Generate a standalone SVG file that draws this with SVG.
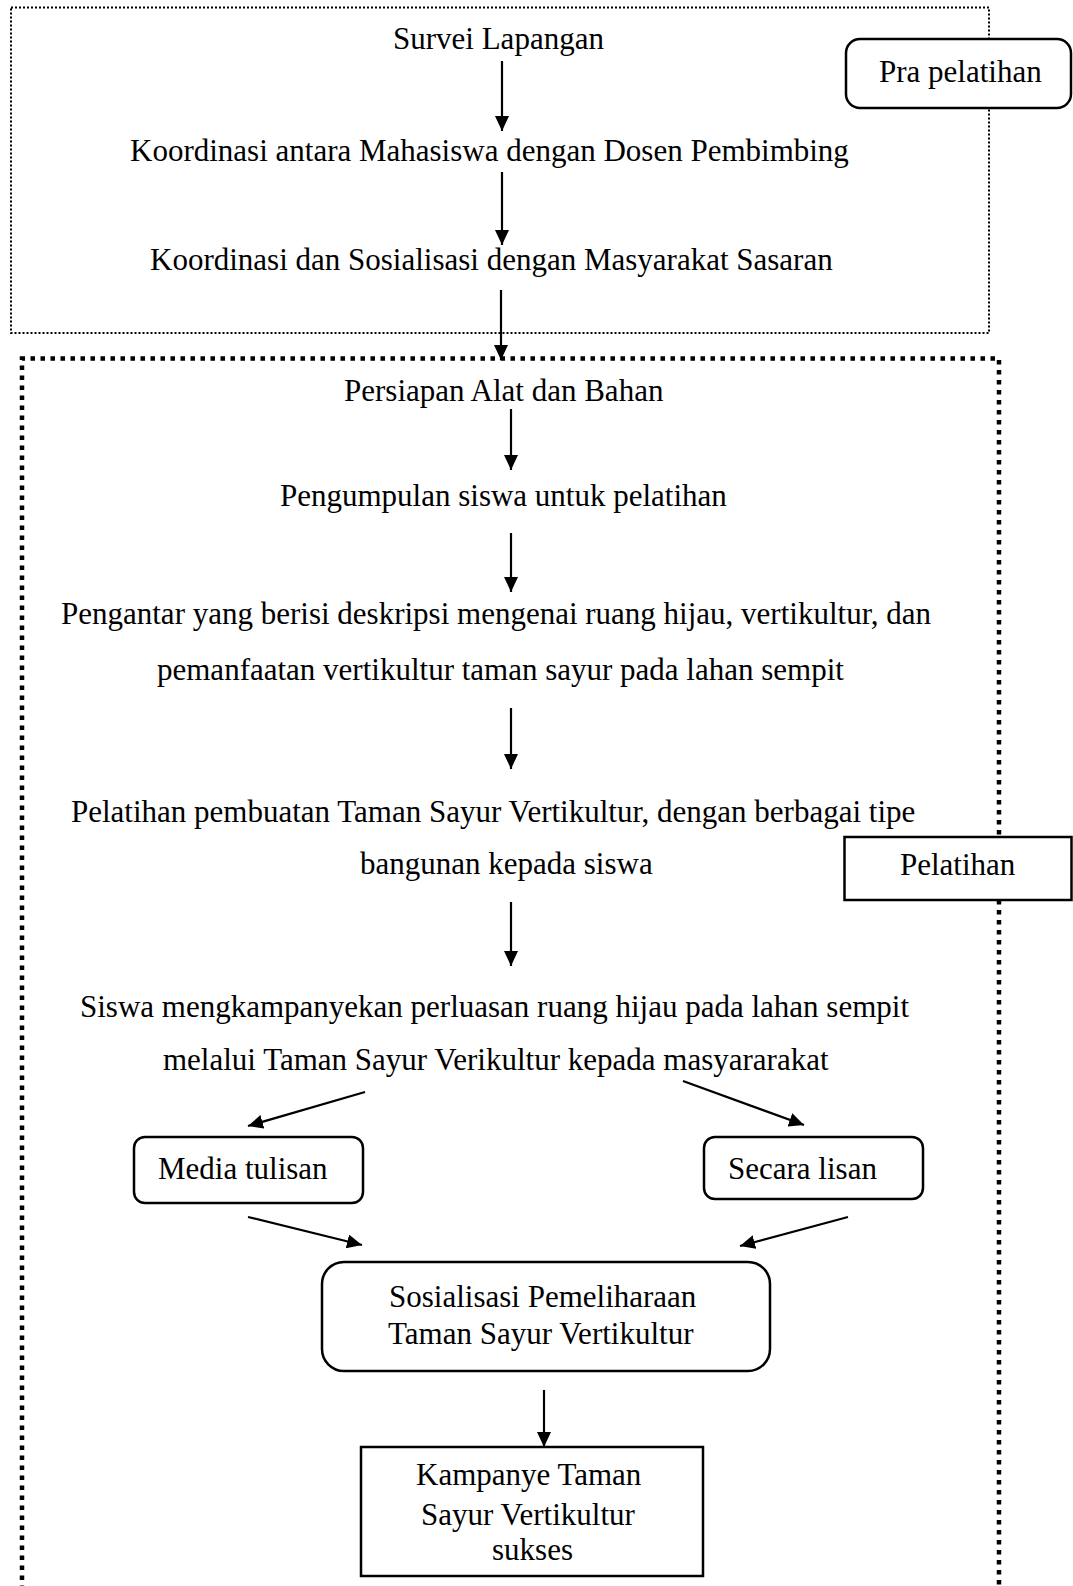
<svg xmlns="http://www.w3.org/2000/svg" width="1073" height="1586" viewBox="0 0 1073 1586">
<style>
text{font-family:"Liberation Serif","Times New Roman",serif;font-size:31px;fill:#000}
.box{fill:#fff;stroke:#000;stroke-width:2.5}
.conn{stroke:#000;stroke-width:2.2;fill:none;marker-end:url(#ah)}
.zone1{fill:none;stroke:#000;stroke-width:2;stroke-dasharray:2 2}
.zone2{fill:none;stroke:#000;stroke-width:4.5;stroke-dasharray:4.5 5.5}
</style>
<defs>
<marker id="ah" markerUnits="userSpaceOnUse" markerWidth="16" markerHeight="14" refX="15" refY="7" orient="auto">
<path d="M0,0 L15,7 L0,14 z" fill="#000"/>
</marker>
</defs>
<rect width="1073" height="1586" fill="#fff"/>
<g id="zone-pra">
<rect class="zone1" x="11" y="7.5" width="978" height="325.5"/>
</g>
<g id="zone-pelatihan">
<path class="zone2" d="M22,1590 V358.5 H999 V1590"/>
</g>
<g id="connectors">
<line class="conn" x1="502" y1="61" x2="502" y2="131"/>
<line class="conn" x1="502" y1="172" x2="502" y2="245"/>
<line class="conn" x1="501" y1="290" x2="501" y2="360"/>
<line class="conn" x1="511" y1="409" x2="511" y2="470"/>
<line class="conn" x1="511" y1="533" x2="511" y2="592"/>
<line class="conn" x1="511" y1="708" x2="511" y2="769"/>
<line class="conn" x1="511" y1="902" x2="511" y2="966"/>
<line class="conn" x1="365" y1="1092" x2="248" y2="1126"/>
<line class="conn" x1="683" y1="1081" x2="804" y2="1125"/>
<line class="conn" x1="248" y1="1217" x2="362" y2="1245"/>
<line class="conn" x1="848" y1="1217" x2="740" y2="1246"/>
<line class="conn" x1="544" y1="1390" x2="544" y2="1447"/>
</g>
<g id="label-pra-pelatihan">
<rect class="box" x="846" y="39" width="225" height="69" rx="14"/>
<text x="879" y="82">Pra pelatihan</text>
</g>
<g id="label-pelatihan">
<rect class="box" x="844.5" y="837" width="227" height="63"/>
<text x="900" y="875">Pelatihan</text>
</g>
<g id="n1"><text x="393" y="49">Survei Lapangan</text></g>
<g id="n2"><text x="130" y="161">Koordinasi antara Mahasiswa dengan Dosen Pembimbing</text></g>
<g id="n3"><text x="150" y="270">Koordinasi dan Sosialisasi dengan Masyarakat Sasaran</text></g>
<g id="n4"><text x="344" y="401">Persiapan Alat dan Bahan</text></g>
<g id="n5"><text x="280" y="506">Pengumpulan siswa untuk pelatihan</text></g>
<g id="n6">
<text x="61" y="624">Pengantar yang berisi deskripsi mengenai ruang hijau, vertikultur, dan</text>
<text x="157" y="680">pemanfaatan vertikultur taman sayur pada lahan sempit</text>
</g>
<g id="n7">
<text x="71" y="822">Pelatihan pembuatan Taman Sayur Vertikultur, dengan berbagai tipe</text>
<text x="360" y="874">bangunan kepada siswa</text>
</g>
<g id="n8">
<text x="80" y="1017">Siswa mengkampanyekan perluasan ruang hijau pada lahan sempit</text>
<text x="163" y="1070">melalui Taman Sayur Verikultur kepada masyararakat</text>
</g>
<g id="n9">
<rect class="box" x="134" y="1137" width="229" height="66" rx="11"/>
<text x="158" y="1179">Media tulisan</text>
</g>
<g id="n10">
<rect class="box" x="704" y="1137" width="219" height="62" rx="11"/>
<text x="728" y="1179">Secara lisan</text>
</g>
<g id="n11">
<rect class="box" x="322" y="1262" width="448" height="109" rx="22"/>
<text x="389" y="1307">Sosialisasi Pemeliharaan</text>
<text x="388" y="1344">Taman Sayur Vertikultur</text>
</g>
<g id="n12">
<rect class="box" x="361" y="1447" width="342" height="129"/>
<text x="416" y="1485">Kampanye Taman</text>
<text x="421" y="1525">Sayur Vertikultur</text>
<text x="492" y="1560">sukses</text>
</g>
</svg>
